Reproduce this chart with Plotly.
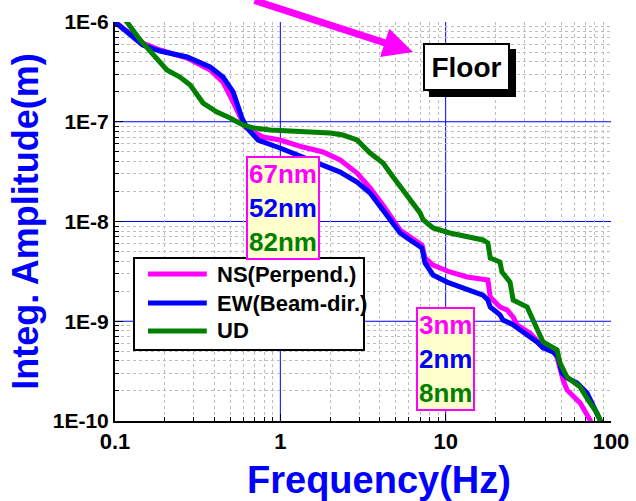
import plotly.graph_objects as go

# Integrated displacement amplitude vs frequency, floor measurement
ns_freq = [0.100, 0.147, 0.187, 0.273, 0.376, 0.450, 0.518, 0.570, 0.611, 0.785, 0.995,
           1.37, 1.81, 2.30, 2.91, 3.49, 4.18, 5.30, 6.09, 7.19, 7.50, 8.39, 10.6, 13.5,
           18.0, 18.6, 21.3, 23.5, 25.6, 27.0, 32.4, 38.8, 45.9, 47.9, 51.3, 54.2, 65.0,
           74.8, 78.0]
ns_amp = [1.0e-6, 6.15e-7, 5.24e-7, 4.35e-7, 3.30e-7, 2.50e-7, 1.58e-7, 1.09e-7, 8.86e-8,
          7.03e-8, 6.56e-8, 5.58e-8, 4.98e-8, 4.14e-8, 3.06e-8, 2.17e-8, 1.46e-8, 8.22e-9,
          7.00e-9, 5.81e-9, 4.31e-9, 3.66e-9, 3.12e-9, 2.78e-9, 2.59e-9, 1.75e-9, 1.39e-9,
          1.30e-9, 1.10e-9, 9.2e-10, 7.6e-10, 5.5e-10, 5.15e-10, 3.81e-10, 2.58e-10,
          2.05e-10, 1.52e-10, 1.02e-10, 8.0e-11]

ew_freq = [0.100, 0.147, 0.187, 0.273, 0.376, 0.450, 0.518, 0.586, 0.629, 0.733, 0.995,
           1.37, 1.81, 2.30, 2.91, 3.49, 4.18, 5.30, 6.09, 7.19, 7.50, 8.39, 10.2, 13.5,
           16.8, 18.0, 18.6, 21.3, 22.2, 25.6, 31.1, 35.7, 38.8, 44.6, 47.9, 50.6, 54.2,
           62.4, 71.6, 78.0, 85.9, 90.0]
ew_amp = [1.0e-6, 5.87e-7, 5.12e-7, 4.46e-7, 3.54e-7, 2.81e-7, 1.99e-7, 1.09e-7, 8.66e-8,
          6.56e-8, 5.46e-8, 4.44e-8, 3.68e-8, 3.13e-8, 2.49e-8, 1.93e-8, 1.30e-8, 7.67e-9,
          6.53e-9, 5.42e-9, 3.84e-9, 2.91e-9, 2.47e-9, 2.06e-9, 1.83e-9, 1.63e-9, 1.39e-9,
          1.16e-9, 1.03e-9, 9.2e-10, 7.3e-10, 6.2e-10, 5.4e-10, 4.92e-10, 4.39e-10,
          3.03e-10, 2.70e-10, 2.40e-10, 1.91e-10, 1.45e-10, 1.02e-10, 8.5e-11]

ud_freq = [0.100, 0.118, 0.142, 0.170, 0.206, 0.247, 0.285, 0.341, 0.414, 0.497, 0.594,
           0.684, 0.867, 1.145, 1.58, 2.00, 2.39, 2.91, 3.49, 4.18, 4.81, 5.52, 6.35, 7.00,
           7.30, 8.39, 10.6, 13.5, 16.8, 18.0, 18.6, 21.3, 21.9, 24.5, 25.6, 31.1, 33.8,
           37.2, 38.8, 47.2, 49.2, 54.2, 65.0, 72.6, 82.4, 85.9, 90.0]
ud_amp = [1.38e-6, 1.0e-6, 6.6e-7, 4.67e-7, 3.30e-7, 2.81e-7, 2.33e-7, 1.54e-7, 1.25e-7,
          1.09e-7, 9.28e-8, 8.66e-8, 8.26e-8, 8.07e-8, 7.89e-8, 7.71e-8, 7.36e-8, 6.56e-8,
          4.86e-8, 3.86e-8, 2.79e-8, 2.07e-8, 1.53e-8, 1.22e-8, 1.04e-8, 8.61e-9, 7.67e-9,
          7.00e-9, 6.53e-9, 6.09e-9, 4.31e-9, 3.93e-9, 3.12e-9, 2.47e-9, 1.63e-9, 1.39e-9,
          1.03e-9, 7.6e-10, 6.2e-10, 5.15e-10, 3.81e-10, 2.76e-10, 2.19e-10, 1.63e-10,
          1.20e-10, 1.02e-10, 8.5e-11]

series_names = ["NS(Perpend.)", "EW(Beam-dir.)", "UD"]
series_colors = ["#FF00FF", "#0000FF", "#008000"]

x_ticks = [0.1, 1, 10, 100]
x_ticktext = ["0.1", "1", "10", "100"]
y_ticks = [1e-10, 1e-9, 1e-8, 1e-7, 1e-6]
y_ticktext = ["1E-10", "1E-9", "1E-8", "1E-7", "1E-6"]

# RMS values above 1 Hz and above 10 Hz, per series
rms_1hz = ["67nm", "52nm", "82nm"]
rms_10hz = ["3nm", "2nm", "8nm"]

FONT = "Liberation Sans, Arial, Helvetica, sans-serif"


def minor_positions(decades):
    """2..9 times each decade start, for the dotted minor grid."""
    return [m * d for d in decades for m in range(2, 10)]


x_minor = minor_positions([0.1, 1, 10])
y_minor = minor_positions([1e-10, 1e-9, 1e-8, 1e-7])

fig = go.Figure()
for f, a, name, col in zip([ns_freq, ew_freq, ud_freq], [ns_amp, ew_amp, ud_amp],
                           series_names, series_colors):
    fig.add_trace(go.Scatter(x=f, y=a, mode="lines", name=name, showlegend=False,
                             line=dict(color=col, width=5)))

shapes = []
# Interior decade lines in blue, drawn between the dotted grid and the curves
for xv in x_ticks[1:-1]:
    shapes.append(dict(type="line", xref="x", yref="paper", x0=xv, x1=xv, y0=0, y1=1,
                       line=dict(color="#0000FF", width=1), layer="between"))
for yv in y_ticks[1:-1]:
    shapes.append(dict(type="line", xref="paper", yref="y", x0=0, x1=1, y0=yv, y1=yv,
                       line=dict(color="#0000FF", width=1), layer="between"))

# Drop shadow behind the location label
shapes.append(dict(type="rect", xref="paper", yref="paper",
                   x0=0.633, x1=0.8085, y0=0.812, y1=0.9323,
                   fillcolor="black", line=dict(width=0), layer="above"))

# Boxed key with long line samples
key_box = dict(x0=0.0383, x1=0.502, y0=0.178, y1=0.4085)
key_rows = [0.3684, 0.2957, 0.2256]
key_line_x = (0.0665, 0.185)
key_text_x = 0.2016
shapes.append(dict(type="rect", xref="paper", yref="paper", **key_box,
                   fillcolor="white", line=dict(color="black", width=2), layer="above"))
for ry, col in zip(key_rows, series_colors):
    shapes.append(dict(type="line", xref="paper", yref="paper",
                       x0=key_line_x[0], x1=key_line_x[1], y0=ry, y1=ry,
                       line=dict(color=col, width=5), layer="above"))


def colored_lines(values):
    return "<br>".join(f"<span style='color:{c}'>{v}</span>"
                       for v, c in zip(values, series_colors))


annotations = [
    # arrow pointing to the location label
    dict(x=0.6008, y=0.9248, xref="paper", yref="paper", text="", showarrow=True,
         ax=-160, ay=-57, arrowhead=2, arrowsize=0.85, arrowwidth=7,
         arrowcolor="#FF00FF", standoff=0),
    dict(x=0.7087, y=0.887, xref="paper", yref="paper", text="Floor", showarrow=False,
         xanchor="center", yanchor="middle",
         width=83, height=44, bgcolor="white",
         bordercolor="black", borderwidth=2, borderpad=0,
         font=dict(family=FONT, size=28, color="black", weight="bold")),
    dict(x=0.3397, y=0.535, xref="paper", yref="paper", text=colored_lines(rms_1hz),
         xanchor="center", yanchor="middle",
         showarrow=False, bgcolor="#FFFFCC", bordercolor="#FF00FF", borderwidth=2,
         borderpad=1, font=dict(family=FONT, size=26, weight="bold")),
    dict(x=0.6673, y=0.1554, xref="paper", yref="paper", text=colored_lines(rms_10hz),
         xanchor="center", yanchor="middle",
         showarrow=False, bgcolor="#FFFFCC", bordercolor="#FF00FF", borderwidth=2,
         borderpad=1, font=dict(family=FONT, size=26, weight="bold")),
    # x-axis title
    dict(x=0.532, y=-0.148, xref="paper", yref="paper", text="Frequency(Hz)",
         xanchor="center", yanchor="middle", showarrow=False,
         font=dict(family=FONT, size=38, color="#0000FF", weight="bold")),
]
for ry, name in zip(key_rows, series_names):
    annotations.append(dict(x=key_text_x, y=ry, xref="paper", yref="paper", text=name,
                            xanchor="left", yanchor="middle", showarrow=False,
                            font=dict(family=FONT, size=22, color="black",
                                      weight="bold")))


def minor_grid(vals):
    return dict(tickmode="array", tickvals=vals, ticks="inside", ticklen=4,
                tickcolor="black", showgrid=True, gridcolor="#BDBDBD",
                griddash="dot", gridwidth=1)


fig.update_layout(
    width=636, height=501,
    margin=dict(l=115, r=25, t=22, b=80),
    paper_bgcolor="white", plot_bgcolor="white",
    font=dict(family=FONT, color="black"),
    shapes=shapes, annotations=annotations, showlegend=False,
    xaxis=dict(type="log", range=[-1, 2], tickvals=x_ticks, ticktext=x_ticktext,
               automargin=False, showgrid=False,
               zeroline=False, showline=True, linecolor="black",
               linewidth=2, ticks="inside", ticklen=7, tickwidth=1, tickcolor="black",
               tickfont=dict(family=FONT, size=22, color="black", weight="bold"),
               minor=minor_grid(x_minor)),
    yaxis=dict(type="log", range=[-10, -6], tickvals=y_ticks, ticktext=y_ticktext,
               automargin=False, showgrid=False,
               zeroline=False, showline=True, linecolor="black",
               linewidth=2, ticks="inside", ticklen=8, tickwidth=1, tickcolor="black",
               tickfont=dict(family=FONT, size=21, color="black", weight="bold"),
               minor=minor_grid(y_minor),
               title=dict(text="Integ. Amplitude(m)", standoff=3,
                          font=dict(family=FONT, size=36, color="#0000FF",
                                    weight="bold"))),
)

fig.write_html("out.html")
